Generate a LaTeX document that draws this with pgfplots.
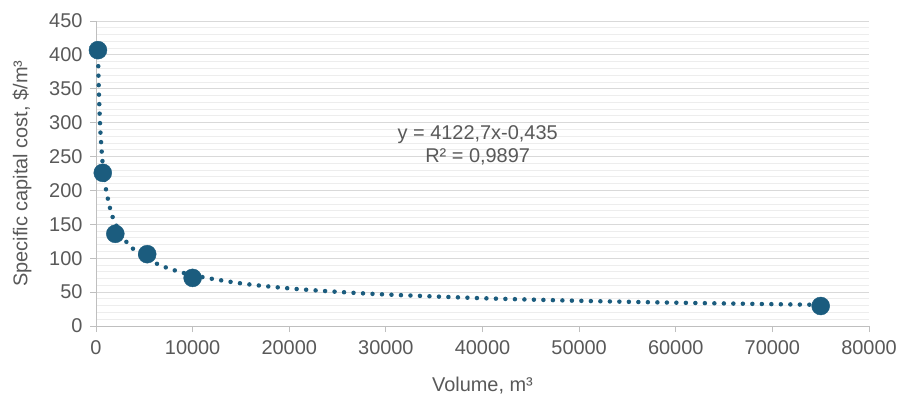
\documentclass[border=0pt]{standalone}
\usepackage{pgfplots}
\pgfplotsset{compat=1.18}
\usepackage{fontspec}
\setmainfont{Liberation Sans}
\definecolor{txt}{HTML}{595959}
\definecolor{mk}{HTML}{1B5C7E}
\definecolor{majgrid}{HTML}{D9D9D9}
\definecolor{mingrid}{HTML}{EDEDED}
\definecolor{axl}{HTML}{BFBFBF}

% measured points
\pgfplotstableread{
x y
200 407
700 226
2000 136
5300 106
10000 71
75000 29.5
}\measured

% power trend line, y = 4122.7 x^-0.435
\pgfplotstableread{
x y
200 411.4
250 373.3
300 344.9
400 304.3
500 276.1
700 238.5
1000 204.3
1500 171.2
2000 151.1
3000 126.7
4000 111.8
5000 101.4
7000 87.6
10000 75.0
15000 62.9
20000 55.5
25000 50.4
30000 46.5
40000 41.0
50000 37.2
60000 34.4
75000 31.2
}\trend

\begin{document}
\begin{tikzpicture}[font=\fontsize{20}{24}\selectfont]
\begin{axis}[
  name=ax,
  scale only axis,
  width=773bp, height=305bp,
  xmin=0, xmax=80000, ymin=0, ymax=450,
  xtick={0,10000,...,80000},
  ytick={0,50,...,450},
  minor y tick num=4,
  axis x line*=bottom, axis y line*=left,
  axis line style={axl, line width=1bp, -},
  tick style={axl, line width=1bp},
  major tick length=6bp,
  tick align=outside,
  minor tick length=0pt,
  ymajorgrids, yminorgrids,
  major grid style={majgrid, line width=1bp},
  minor grid style={mingrid, line width=1bp},
  ticklabel style={text=txt},
  xticklabel style={yshift=-5bp},
  yticklabel style={xshift=-4bp},
  /pgf/number format/assume math mode=true,
  /pgf/number format/set thousands separator={},
  scaled x ticks=false,
  xlabel={Volume, m³},
  ylabel={Specific capital cost, \$/m³},
  label style={text=txt},
  xlabel style={yshift=-16bp},
  ylabel style={yshift=11bp},
  clip=false,
]
\addplot[mk, line width=4.5bp, line cap=round, dash pattern=on 0pt off 9.5bp, smooth]
  table[x=x, y=y] {\trend};
\addplot[only marks, mark=*, mark size=9bp, mk, mark options={fill=mk, draw=mk}]
  table[x=x, y=y] {\measured};
\node[txt, align=center, inner sep=0pt] at (axis cs:39500,266)
  {y = 4122,7x-0,435\\[-1pt]R² = 0,9897};
\end{axis}
\pgfresetboundingbox
\path ([xshift=-96bp,yshift=-72bp]ax.south west) rectangle ([xshift=30bp,yshift=21bp]ax.north east);
\end{tikzpicture}
\end{document}
